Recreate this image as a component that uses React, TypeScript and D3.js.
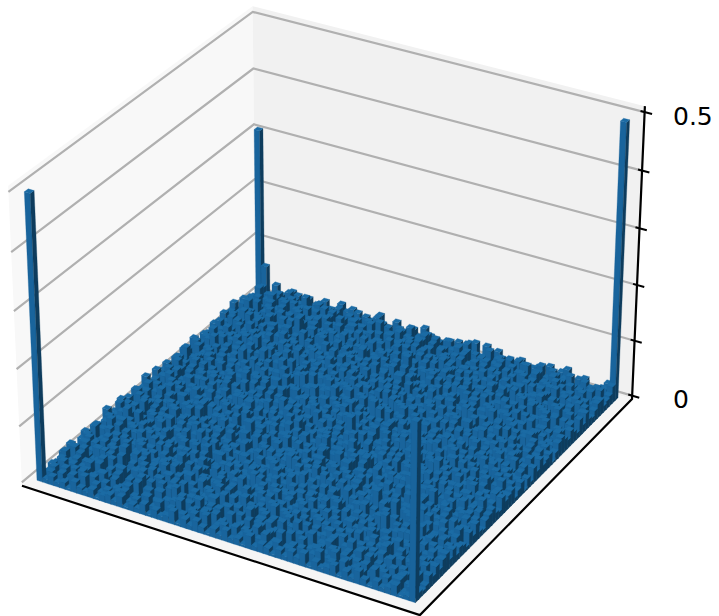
import React, { useEffect, useRef } from "react";
import * as d3 from "d3";

// heights in steps of heightStep, base 36, one row per y index (row 0 = front edge)
const heightStep = 0.0038;
const heightRows = [
	"02423153 24134251 32514236 14253142 52316243 14253614 23514263 14235120",
	"34152637 15243562 41736152 43627145 16352473 51426357 14263541 72536143",
	"25163472 63514273 25341678 25163742 35417263 82413562 37152463 25146372",
	"41725364 27163458 16274351 64152837 24736152 37261453 62514382 41635273",
	"36251483 54172639 43518264 27365184 63152749 14638257 41537264 38251746",
	"18463257 36482157 62739145 53182647 18254736 69251347 25846137 52716384",
	"53274168 21653784 37145826 14679253 47361528 23714586 73162549 16453827",
	"27581346 74325168 51862473 36251749 62519374 48352617 34925168 27381654",
	"64132857 38164725 26473918 52814367 35182647 15276384 62157483 94362517",
	"32746518 15297364 84316257 17463592 26947315 73621854 41783526 36125748",
	"15863274 62438157 37152964 48263175 73152468 26485137 58162743 51873264",
	"47216385 93571426 16285743 35179426 15826374 91347256 23645178 84236517",
	"62357149 24816375 59342618 62841357 48367129 35162748 76213459 12574863",
	"38142756 57362491 27168345 14736982 26541738 67281354 14892637 39461725",
	"21675384 16497253 43826157 73259146 81375264 12763589 35167248 65238174",
	"54318267 82135746 65174392 26418735 35926174 48513627 62734185 17345692",
	"36829175 37264518 18392746 51763248 64213857 37196452 18452763 42681537",
	"17243658 64581372 72645183 38125697 16784325 52341768 47236819 73158264",
	"83516427 25173694 34281756 64372815 53142697 18675243 26915374 25736418",
	"25741936 48326157 96153472 17856243 27469135 43182576 75342168 61824753",
	"49362518 71958324 21736548 45213769 84621357 27695314 13486725 38457162",
	"12685374 36241785 63859127 32764158 16375284 75132468 58261743 14263985",
	"76134285 52173846 17326495 96125473 35281746 41863725 36714592 57192346",
	"34257196 18465372 45281736 28374516 72654138 26579143 42137865 83641527",
	"51876342 73294165 38564127 51639284 14832967 38241576 69258134 26375814",
	"28413567 41658327 72145938 37482156 53716428 19365724 17542386 41758263",
	"63725184 26389145 15827364 14675392 26147583 47268135 34896127 75132698",
	"15468273 85132764 64392517 72138645 89253146 63154827 72318654 23846175",
	"47231956 34761258 28175643 36854271 41367925 25731964 16452738 58174326",
	"82615374 19254876 53718426 15293867 74125638 47862153 53927184 36291547",
	"36148725 67582341 36941275 48172536 26589314 13475268 38146527 14675832",
	"24793516 23147968 87254136 93624185 37146852 68253714 24761395 72538164",
	"75162483 45826137 13678524 27561348 51836274 35124786 61538247 45183726",
	"13584627 71349265 42135796 35418276 64271593 82697143 47263185 26947351",
	"46273158 38652714 65382417 61793524 18345627 46351278 92185364 83126475",
	"62915374 26174583 27196543 14825376 72961348 13782645 35746218 15764382",
	"38426195 64381527 59248136 72346189 35124768 59246371 14283756 42358167",
	"17538246 15726938 34167285 56182743 48652317 27315486 76152943 37185294",
	"54176382 83245176 71823654 24637158 26379145 63418572 23698154 61472538",
	"29364817 46157329 16495327 81345267 51482736 15762934 48135267 25863174",
	"63152748 27683415 48273156 36792514 83146259 47236185 16724583 74316285",
	"41857263 51349726 65138942 15264837 27653184 82451367 52378146 18527436",
	"28463175 73216584 27456183 48137692 34518726 36175248 38461792 46238571",
	"75136284 16825347 93172546 72563418 68247135 14829673 65213478 31795624",
	"34792516 42579136 18364752 25418376 15973264 57362841 27154836 64182357",
	"16258347 68314275 54271863 63192548 42386157 26145379 81643527 25376418",
	"52473681 25167438 36825147 17486352 76152483 43718256 34295176 73541286",
	"47316258 79324156 17453692 38254176 23748165 85263147 16832745 18265374",
	"23685174 14652873 82136475 54637218 51926374 14672538 47156382 52483617",
	"68152437 36841725 45762138 26173945 37485126 72351864 92347516 36719245",
	"14237596 52179364 26315847 73486251 16274583 36148275 15683274 41825763",
	"35874162 47326518 71584326 15248367 48351297 25769413 74216358 27364158",
	"72153486 18453627 34962175 49261738 23617845 41835276 36541827 65182734",
	"26418375 63271845 18257364 37158426 75164238 63274518 28197365 13746528",
	"51372648 24596138 57134286 62475183 16382547 18526347 45263178 58237164",
	"84265137 37148265 23768451 18346527 42597136 34751682 16384527 26415873",
	"37512684 85326174 46215397 54721836 37241865 27168453 72531486 41768325",
	"14683725 16472583 71836254 26385174 18354762 52613874 34176258 83254617",
	"62341857 42715368 35148267 43126587 52416387 14275638 61824375 25638147",
	"25716348 36184527 48263715 61745238 36275148 46183725 27453618 61472853",
	"41358276 75236418 16375284 35284617 47163258 32516847 54172386 46235184",
	"38265147 24158736 43562718 14375268 28415736 65427183 18362475 34186725",
	"17436285 48362517 25147386 52638147 15274683 14836257 62483715 72341568",
	"35184276 16257438 57624183 27146385 43516278 28374516 34517268 15623470",
];
// the four tall bars, [x index, y index, height]
const spikes: [number, number, number][] = [
	[0, 0, 0.497],
	[0, 63, 0.307],
	[63, 63, 0.49],
	[63, 0, 0.307],
	[1, 63, 0.06],
];
// taller columns
const tallBars: [number, number, number][] = [
	[35, 38, 0.045], [35, 31, 0.055], [15, 51, 0.04], [13, 53, 0.05], [10, 41, 0.045],
	[17, 46, 0.04], [33, 52, 0.045], [18, 40, 0.04], [35, 42, 0.04], [3, 19, 0.035],
	[9, 9, 0.04], [2, 6, 0.035], [6, 8, 0.03], [21, 4, 0.035], [4, 22, 0.035],
	[48, 16, 0.05], [51, 16, 0.04], [51, 29, 0.04], [61, 20, 0.03], [2, 56, 0.035],
	[3, 53, 0.035],
];
const zTicks = [0, 0.1, 0.2, 0.3, 0.4, 0.5];
const zTickLabels = ["0", "", "", "", "", "0.5"];

const N = 64;
const barColors = { top: "#1b6ba4", side: "#19649c", dark: "#0e3c5d" };

// same camera as matplotlib 3d: elev 30, azim -60, dist 10, box aspect 4:4:3
const aspect = [1.1429, 1.1429, 0.8572];
const camU = [0.866, 0.5, 0];
const camV = [-0.25, 0.433, 0.866];
const camW = [0.433, -0.75, 0.5];
const dot = (a: number[], b: number[]) => a[0] * b[0] + a[1] * b[1] + a[2] * b[2];

const pxX = d3.scaleLinear().domain([-1, 1]).range([332.4 - 399, 332.4 + 399]);
const pxY = d3.scaleLinear().domain([-1, 1]).range([296.6 + 399, 296.6 - 399]);

function project(u: number, v: number, w: number): [number, number] {
	const d = [(u - 0.5) * aspect[0], (v - 0.5) * aspect[1], (w - 0.5) * aspect[2]];
	const f = 1 - dot(d, camW) / 10;
	return [pxX(dot(d, camU) / f), pxY(dot(d, camV) / f)];
}

const poly = (pts: [number, number][]) => d3.line()(pts)! + "Z";

const App: React.FC = () => {
	const svgRef = useRef<SVGSVGElement | null>(null);

	useEffect(() => {
		const svg = d3.select(svgRef.current);
		svg.selectAll("*").remove();

		const band = d3.scaleBand<number>().domain(d3.range(N)).range([0.024, 0.976]);
		const zScale = d3.scaleLinear().domain([-0.006, 0.51]).range([0, 1]);

		// panes
		const panes = [
			{ fill: "#f5f5f5", pts: [project(0, 0, 0), project(1, 0, 0), project(1, 1, 0), project(0, 1, 0)] },
			{ fill: "#f8f8f8", pts: [project(0, 0, 0), project(0, 1, 0), project(0, 1, 1), project(0, 0, 1)] },
			{ fill: "#f1f1f1", pts: [project(0, 1, 0), project(1, 1, 0), project(1, 1, 1), project(0, 1, 1)] },
		];
		panes.forEach((p) => svg.append("path").attr("d", poly(p.pts as [number, number][])).attr("fill", p.fill));

		// z grid on the two walls
		zTicks.forEach((t) => {
			const w = zScale(t);
			svg.append("path")
				.attr("d", d3.line()([project(0, 0, w), project(0, 1, w), project(1, 1, w)])!)
				.attr("fill", "none")
				.attr("stroke", "#b0b0b0")
				.attr("stroke-width", 2.2);
		});

		// axis lines
		svg.append("path")
			.attr("d", d3.line()([project(0, 0, 0), project(1, 0, 0), project(1, 1, 0), project(1, 1, 1)])!)
			.attr("fill", "none")
			.attr("stroke", "#000")
			.attr("stroke-width", 2.2);

		zTicks.forEach((t, i) => {
			const w = zScale(t);
			svg.append("path")
				.attr("d", d3.line()([project(0.99, 1, w), project(1.018, 1, w)])!)
				.attr("stroke", "#000")
				.attr("stroke-width", 2);
			if (zTickLabels[i]) {
				svg.append("text")
					.attr("x", 673)
					.attr("y", project(1, 1, w)[1] + 12.5)
					.attr("font-family", "DejaVu Sans")
					.attr("font-size", 25)
					.attr("fill", "#000")
					.text(zTickLabels[i]);
			}
		});

		// bars, far ones first
		const heights = heightRows.map((r) => {
			const s = r.replace(/ /g, "");
			return d3.range(N).map((j) => (parseInt(s.charAt(j) || "2", 36) || 0) * heightStep);
		});
		[...tallBars, ...spikes].forEach(([x, y, h]) => {
			heights[y][x] = h;
		});

		const g = svg.append("g").attr("stroke-width", 0.3).attr("stroke-linejoin", "round");
		const addFace = (pts: [number, number][], color: string) =>
			g.append("path").attr("d", poly(pts)).attr("fill", color).attr("stroke", color);

		for (let y = N - 1; y >= 0; y--) {
			for (let x = 0; x < N; x++) {
				const u0 = band(x)!;
				const u1 = u0 + band.bandwidth();
				const v0 = band(y)!;
				const v1 = v0 + band.bandwidth();
				const w0 = zScale(0);
				const w1 = zScale(heights[y][x]);
				addFace([project(u0, v0, w0), project(u1, v0, w0), project(u1, v0, w1), project(u0, v0, w1)], barColors.side);
				addFace([project(u1, v0, w0), project(u1, v1, w0), project(u1, v1, w1), project(u1, v0, w1)], barColors.dark);
				addFace([project(u0, v0, w1), project(u1, v0, w1), project(u1, v1, w1), project(u0, v1, w1)], barColors.top);
			}
		}
	}, []);

	return (
		<svg
			ref={svgRef}
			width={719}
			height={616}
			style={{ position: "absolute", left: 0, top: 0, background: "#fff" }}
		></svg>
	);
};

export default App;
